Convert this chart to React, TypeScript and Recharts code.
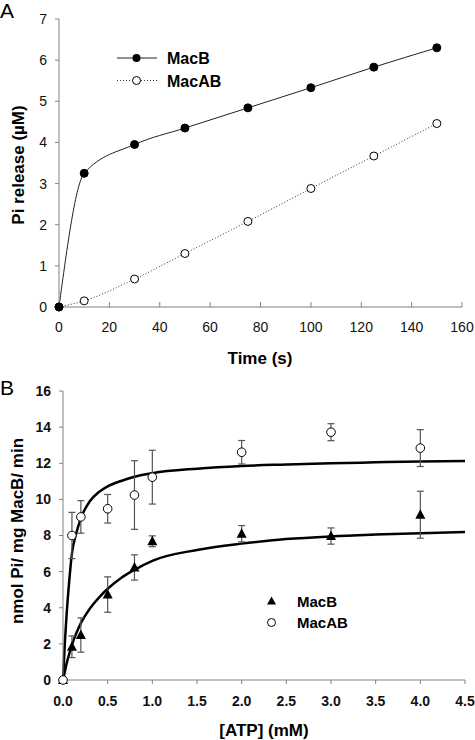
import React from 'react';
import {
  ComposedChart,
  Line,
  Scatter,
  ErrorBar,
  XAxis,
  YAxis,
} from 'recharts';

// Panel A: Pi release over time
const timeA = [0, 10, 30, 50, 75, 100, 125, 150];
const macBRelease = [0, 3.25, 3.95, 4.35, 4.84, 5.33, 5.83, 6.3];
const macABRelease = [0, 0.15, 0.68, 1.3, 2.08, 2.88, 3.67, 4.46];
const ticksA = [0, 20, 40, 60, 80, 100, 120, 140, 160];
const ticksAY = [0, 1, 2, 3, 4, 5, 6, 7];

// Panel B: ATPase activity vs [ATP]
const atp = [0, 0.1, 0.2, 0.5, 0.8, 1, 2, 3, 4];
const macBRate = [0, 1.84, 2.49, 4.73, 6.23, 7.68, 8.1, 7.97, 9.15];
const macBErr = [0, 0.6, 0.95, 0.98, 0.7, 0.3, 0.45, 0.45, 1.3];
const macABRate = [0, 8.0, 9.03, 9.48, 10.24, 11.23, 12.61, 13.72, 12.84];
const macABErr = [0, 1.28, 0.9, 0.79, 1.9, 1.49, 0.65, 0.47, 1.02];

// fitted curves
const fitX = [0, 0.02, 0.04, 0.07, 0.1, 0.15, 0.2, 0.3, 0.4, 0.5, 0.65, 0.8, 1, 1.5, 2, 2.5, 3, 3.5, 4, 4.5];
const macBFit = [0, 0.45, 0.9, 1.45, 1.95, 2.6, 3.15, 3.95, 4.55, 5.05, 5.65, 6.1, 6.6, 7.2, 7.55, 7.8, 7.95, 8.05, 8.13, 8.2];
const macABFit = [0, 2.0, 3.6, 5.5, 7.0, 8.15, 8.95, 9.9, 10.4, 10.72, 11.02, 11.25, 11.45, 11.7, 11.85, 11.93, 12.0, 12.05, 12.1, 12.12];
const ticksB = [0, 0.5, 1, 1.5, 2, 2.5, 3, 3.5, 4, 4.5];
const ticksBY = [0, 2, 4, 6, 8, 10, 12, 14, 16];

const FONT = '"Liberation Sans", Arial, sans-serif';
const AXIS = '#808080';

const dataMacB = timeA.map((t, i) => ({ x: t, y: macBRelease[i] }));
const dataMacAB = timeA.map((t, i) => ({ x: t, y: macABRelease[i] }));
const ptsMacB = atp.map((a, i) => ({ x: a, y: macBRate[i], err: macBErr[i] }));
const ptsMacAB = atp.map((a, i) => ({ x: a, y: macABRate[i], err: macABErr[i] }));
const fitMacB = fitX.map((a, i) => ({ x: a, y: macBFit[i] }));
const fitMacAB = fitX.map((a, i) => ({ x: a, y: macABFit[i] }));

const Triangle = (props: any) => {
  const { cx, cy } = props;
  return <polygon points={`${cx},${cy - 5.5} ${cx - 5},${cy + 4} ${cx + 5},${cy + 4}`} fill="#000" />;
};

const OpenCircle = (props: any) => {
  const { cx, cy } = props;
  return <circle cx={cx} cy={cy} r={4.3} fill="#fff" stroke="#000" strokeWidth={1} />;
};

export default function App() {
  return (
    <div style={{ position: 'absolute', left: 0, top: 0, width: 475, height: 740, background: '#fff' }}>
      <div style={{ position: 'absolute', left: 0, top: 0 }}>
        <ComposedChart width={475} height={370} margin={{ top: 19, right: 13, left: 0, bottom: 0 }}>
          <XAxis
            dataKey="x"
            type="number"
            domain={[0, 160]}
            ticks={ticksA}
            height={63}
            stroke={AXIS}
            tickSize={-5}
            tickMargin={20}
            tick={{ fill: '#111', fontSize: 14, fontFamily: FONT }}
          />
          <YAxis
            type="number"
            domain={[0, 7]}
            ticks={ticksAY}
            width={59}
            stroke={AXIS}
            tickSize={4}
            tickMargin={8}
            tick={{ fill: '#111', fontSize: 14, fontFamily: FONT }}
          />
          <Line
            data={dataMacAB}
            dataKey="y"
            type="monotone"
            stroke="#333"
            strokeWidth={1}
            strokeDasharray="1 2"
            dot={{ r: 4, fill: '#fff', stroke: '#000', strokeWidth: 1, strokeDasharray: '' }}
            isAnimationActive={false}
          />
          <Line
            data={dataMacB}
            dataKey="y"
            type="monotone"
            stroke="#222"
            strokeWidth={1}
            dot={{ r: 4, fill: '#000', stroke: '#000', strokeWidth: 1 }}
            isAnimationActive={false}
          />
        </ComposedChart>
      </div>

      <div style={{ position: 'absolute', left: 0, top: 370 }}>
        <ComposedChart width={475} height={370} margin={{ top: 21, right: 10, left: 0, bottom: 0 }}>
          <XAxis
            dataKey="x"
            type="number"
            domain={[0, 4.5]}
            ticks={ticksB}
            height={60}
            stroke={AXIS}
            tickSize={4}
            tickMargin={12}
            tickFormatter={(v: number) => v.toFixed(1)}
            tick={{ fill: '#111', fontSize: 14, fontWeight: 'bold', fontFamily: FONT }}
          />
          <YAxis
            type="number"
            domain={[0, 16]}
            ticks={ticksBY}
            width={63}
            stroke={AXIS}
            tickSize={4}
            tickMargin={8}
            tick={{ fill: '#111', fontSize: 14, fontWeight: 'bold', fontFamily: FONT }}
          />
          <Line data={fitMacB} dataKey="y" type="monotone" stroke="#000" strokeWidth={2.5} dot={false} isAnimationActive={false} />
          <Line data={fitMacAB} dataKey="y" type="monotone" stroke="#000" strokeWidth={2.5} dot={false} isAnimationActive={false} />
          <Scatter data={ptsMacB} dataKey="y" shape={<Triangle />} isAnimationActive={false}>
            <ErrorBar dataKey="err" direction="y" width={3.5} stroke="#555" strokeWidth={1.2} />
          </Scatter>
          <Scatter data={ptsMacAB} dataKey="y" shape={<OpenCircle />} isAnimationActive={false}>
            <ErrorBar dataKey="err" direction="y" width={3.5} stroke="#555" strokeWidth={1.2} />
          </Scatter>
        </ComposedChart>
      </div>

      {/* titles, panel letters and legends */}
      <svg width={475} height={740} style={{ position: 'absolute', left: 0, top: 0, pointerEvents: 'none' }}>
        <g fontFamily={FONT} fill="#000">
          <text x={0} y={18} fontSize={21}>A</text>
          <text x={0} y={395} fontSize={21}>B</text>

          <text x={260} y={364} fontSize={17} fontWeight="bold" textAnchor="middle">Time (s)</text>
          <text transform="translate(24,165) rotate(-90)" fontSize={17} fontWeight="bold" textAnchor="middle">
            Pi release (µM)
          </text>

          <text x={264} y={736} fontSize={17} fontWeight="bold" textAnchor="middle">[ATP] (mM)</text>
          <text transform="translate(23,531) rotate(-90)" fontSize={17} fontWeight="bold" textAnchor="middle">
            nmol Pi/ mg MacB/ min
          </text>

          {/* legend A */}
          <line x1={117} y1={58} x2={157} y2={58} stroke="#222" strokeWidth={1} />
          <circle cx={136.5} cy={58} r={4} fill="#000" />
          <text x={167} y={64} fontSize={16} fontWeight="bold">MacB</text>
          <line x1={117} y1={80.5} x2={157} y2={80.5} stroke="#333" strokeWidth={1} strokeDasharray="1 2" />
          <circle cx={136.5} cy={80.5} r={4} fill="#fff" stroke="#000" />
          <text x={167} y={86.5} fontSize={16} fontWeight="bold">MacAB</text>

          {/* legend B */}
          <polygon points="271.5,596.5 267,604.5 276,604.5" fill="#000" />
          <text x={297} y={607} fontSize={15} fontWeight="bold">MacB</text>
          <circle cx={271.5} cy={622.5} r={4} fill="#fff" stroke="#000" />
          <text x={297} y={628} fontSize={15} fontWeight="bold">MacAB</text>
        </g>
      </svg>
    </div>
  );
}
